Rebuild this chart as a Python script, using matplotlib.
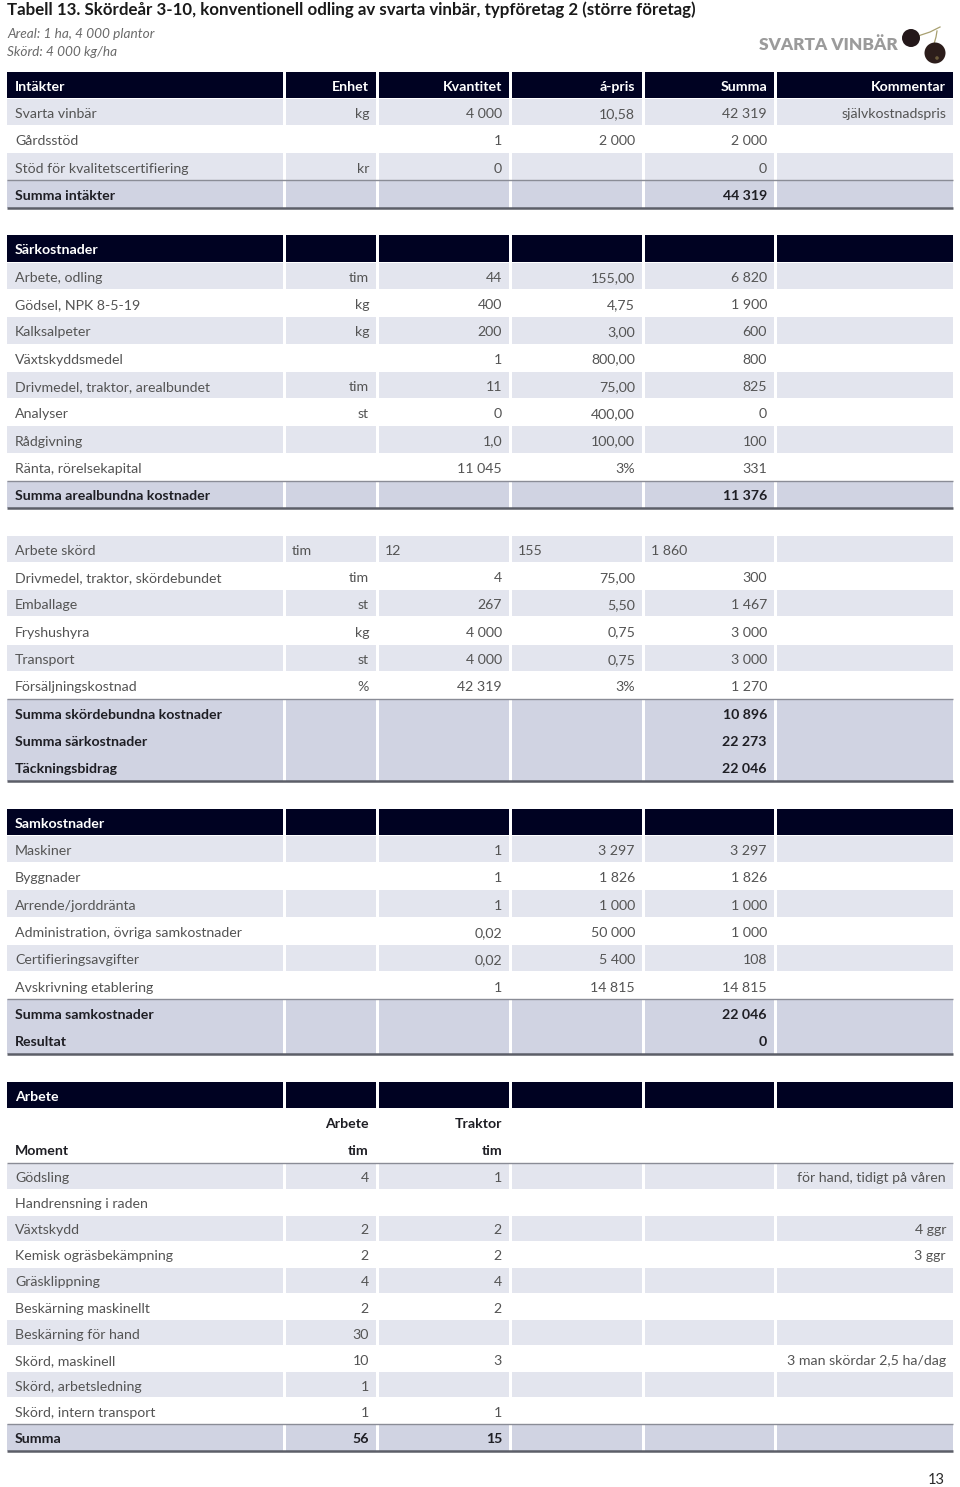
import matplotlib
matplotlib.use("Agg")
import matplotlib.pyplot as plt
from matplotlib.patches import Rectangle, Circle

FONT = "Lato"
plt.rcParams['font.family'] = [FONT, 'DejaVu Sans']

# ---------------- data ----------------
title = "Tabell 13. Skördeår 3-10, konventionell odling av svarta vinbär, typföretag 2 (större företag)"
subtitle1 = "Areal: 1 ha, 4 000 plantor"
subtitle2 = "Skörd: 4 000 kg/ha"
logo_text = "SVARTA VINBÄR"
page_no = "13"

columns = ["Intäkter", "Enhet", "Kvantitet", "á-pris", "Summa", "Kommentar"]

intakter_labels = ["Svarta vinbär", "Gårdsstöd", "Stöd för kvalitetscertifiering", "Summa intäkter"]
intakter_unit = ["kg", "", "kr", ""]
intakter_qty = ["4 000", "1", "0", ""]
intakter_price = ["10,58", "2 000", "", ""]
intakter_sum = ["42 319", "2 000", "0", "44 319"]
intakter_comment = ["självkostnadspris", "", "", ""]
intakter_kind = ["d", "d", "d", "s"]

sark_header = "Särkostnader"
sark_labels = ["Arbete, odling", "Gödsel, NPK 8-5-19", "Kalksalpeter", "Växtskyddsmedel",
               "Drivmedel, traktor, arealbundet", "Analyser", "Rådgivning",
               "Ränta, rörelsekapital", "Summa arealbundna kostnader"]
sark_unit = ["tim", "kg", "kg", "", "tim", "st", "", "", ""]
sark_qty = ["44", "400", "200", "1", "11", "0", "1,0", "11 045", ""]
sark_price = ["155,00", "4,75", "3,00", "800,00", "75,00", "400,00", "100,00", "3%", ""]
sark_sum = ["6 820", "1 900", "600", "800", "825", "0", "100", "331", "11 376"]
sark_kind = ["d"] * 8 + ["s"]

skord_labels = ["Arbete skörd", "Drivmedel, traktor, skördebundet", "Emballage", "Fryshushyra",
                "Transport", "Försäljningskostnad", "Summa skördebundna kostnader",
                "Summa särkostnader", "Täckningsbidrag"]
skord_unit = ["tim", "tim", "st", "kg", "st", "%", "", "", ""]
skord_qty = ["12", "4", "267", "4 000", "4 000", "42 319", "", "", ""]
skord_price = ["155", "75,00", "5,50", "0,75", "0,75", "3%", "", "", ""]
skord_sum = ["1 860", "300", "1 467", "3 000", "3 000", "1 270", "10 896", "22 273", "22 046"]
skord_kind = ["dl", "d", "d", "d", "d", "d", "s", "s", "s"]

samk_header = "Samkostnader"
samk_labels = ["Maskiner", "Byggnader", "Arrende/jorddränta", "Administration, övriga samkostnader",
               "Certifieringsavgifter", "Avskrivning etablering", "Summa samkostnader", "Resultat"]
samk_qty = ["1", "1", "1", "0,02", "0,02", "1", "", ""]
samk_price = ["3 297", "1 826", "1 000", "50 000", "5 400", "14 815", "", ""]
samk_sum = ["3 297", "1 826", "1 000", "1 000", "108", "14 815", "22 046", "0"]
samk_kind = ["d"] * 6 + ["s", "s"]

arb_header = "Arbete"
arb_sub1 = ["", "Arbete", "Traktor"]
arb_sub2 = ["Moment", "tim", "tim"]
arb_labels = ["Gödsling", "Handrensning i raden", "Växtskydd", "Kemisk ogräsbekämpning",
              "Gräsklippning", "Beskärning maskinellt", "Beskärning för hand",
              "Skörd, maskinell", "Skörd, arbetsledning", "Skörd, intern transport", "Summa"]
arb_work = ["4", "", "2", "2", "4", "2", "30", "10", "1", "1", "56"]
arb_tractor = ["1", "", "2", "2", "4", "2", "", "3", "", "1", "15"]
arb_comment = ["för hand, tidigt på våren", "", "4 ggr", "3 ggr", "", "", "", "3 man skördar 2,5 ha/dag", "", "", ""]
arb_kind = ["d"] * 10 + ["s"]

# ---------------- style ----------------
W, H = 960, 1487
C_HEAD = "#000222"
C_LIGHT = "#e3e5ee"
C_SUM = "#d0d3e2"
C_TEXT = "#545454"
C_BOLD = "#1e1e24"
C_LINE_T = "#8a8c96"
C_LINE_B = "#5c5e68"

col_l = [7, 286, 379, 512, 645, 777]
col_r = [283, 376, 509, 642, 774, 953]
FS = 10.2
RH = 27.3
Y0 = 71.0

fig = plt.figure(figsize=(W / 100, H / 100), dpi=100)
ax = fig.add_axes([0, 0, 1, 1])
ax.set_xlim(0, W)
ax.set_ylim(H, 0)
ax.axis("off")


def cell_bg(top, h, color, vgap=1.0):
    for l, r in zip(col_l, col_r):
        ax.add_patch(Rectangle((l, top + vgap / 2), r - l, h - vgap, facecolor=color,
                               edgecolor="none", zorder=1))


def put(ci, y, s, bold=False, color=None, align="r"):
    if not s:
        return
    if color is None:
        color = C_BOLD if bold else C_TEXT
    if ci == 0 or align == "l":
        x = col_l[ci] + 8 if ci == 0 else col_l[ci] + 6
        ha = "left"
    else:
        x = col_r[ci] - 7
        ha = "right"
    ax.text(x, y, s, ha=ha, va="center_baseline", fontsize=FS,
            fontweight="bold" if bold else "normal", color=color, zorder=3)


def hline(y, lw, color):
    ax.plot([col_l[0], col_r[-1]], [y, y], color=color, lw=lw, solid_capstyle="butt", zorder=4)


def header_row(top, texts):
    cell_bg(top, RH, C_HEAD)
    for ci, s in enumerate(texts):
        put(ci, top + RH / 2 + 1, s, bold=True, color="white")


def body(top, kinds, rows, rh=RH, last_rh=None):
    y = top
    shade = True
    first_sum = True
    n = len(kinds)
    for i, (k, vals) in enumerate(zip(kinds, rows)):
        h = last_rh if (last_rh and i == n - 1) else rh
        if k == "s":
            cell_bg(y, h, C_SUM, vgap=0)
            if first_sum:
                hline(y, 1.0, C_LINE_T)
                first_sum = False
            for ci, s in enumerate(vals):
                put(ci, y + h / 2 + 1, s, bold=True)
        else:
            if shade:
                cell_bg(y, h, C_LIGHT)
            shade = not shade
            for ci, s in enumerate(vals):
                put(ci, y + h / 2 + 1, s, align="l" if (k == "dl" and ci > 0) else "r")
        y += h
    hline(y, 1.8, C_LINE_B)
    return y


# title & subtitles
ax.text(7, 10, title, ha="left", va="center", fontsize=12.2, fontweight="bold", color="#1a1a1a")
ax.text(7, 34, subtitle1, ha="left", va="center", fontsize=9.8, style="italic", color="#6a6a6a")
ax.text(7, 52, subtitle2, ha="left", va="center", fontsize=9.8, style="italic", color="#6a6a6a")

# logo
ax.text(898, 45, logo_text, ha="right", va="center", fontsize=12.4, fontweight="heavy",
        color="#9b9b9b")
ax.plot([918, 930, 940], [36, 32, 27], color="#a8a070", lw=0.9, zorder=2)
ax.plot([934, 936, 937], [44, 37, 31], color="#a8a070", lw=0.9, zorder=2)
ax.add_patch(Circle((911, 38), 9, facecolor="#24181a", edgecolor="none", zorder=3))
ax.add_patch(Circle((935, 53), 10.5, facecolor="#2c1d1b", edgecolor="none", zorder=3))
ax.add_patch(Circle((937, 58), 1.8, facecolor="#6a5a3a", edgecolor="none", zorder=4))

# section 1
header_row(Y0, columns)
rows1 = list(zip(intakter_labels, intakter_unit, intakter_qty, intakter_price, intakter_sum, intakter_comment))
body(Y0 + RH, intakter_kind, rows1)

# section 2
t = Y0 + 6 * RH
header_row(t, [sark_header, "", "", "", "", ""])
rows2 = list(zip(sark_labels, sark_unit, sark_qty, sark_price, sark_sum))
body(t + RH, sark_kind, rows2)

# section 3
t = Y0 + 17 * RH
rows3 = list(zip(skord_labels, skord_unit, skord_qty, skord_price, skord_sum))
body(t, skord_kind, rows3)

# section 4
t = Y0 + 27 * RH
header_row(t, [samk_header, "", "", "", "", ""])
rows4 = [(lab, "", q, p, s) for lab, q, p, s in zip(samk_labels, samk_qty, samk_price, samk_sum)]
body(t + RH, samk_kind, rows4)

# section 5
t = Y0 + 37 * RH
header_row(t, [arb_header, "", "", "", "", ""])
for ci, s in enumerate(arb_sub1):
    put(ci, t + RH * 1.5 + 1, s, bold=True)
for ci, s in enumerate(arb_sub2):
    put(ci, t + RH * 2.5 + 1, s, bold=True)
t5 = t + 3 * RH
hline(t5, 1.0, C_LINE_T)
rows5 = [(lab, a, tr, "", "", c) for lab, a, tr, c in zip(arb_labels, arb_work, arb_tractor, arb_comment)]
body(t5, arb_kind, rows5, rh=26.1, last_rh=27.0)

ax.text(945, 1480, page_no, ha="right", va="center", fontsize=10.5, color="#2a2a2a")

fig.savefig("out.png", dpi=100)
